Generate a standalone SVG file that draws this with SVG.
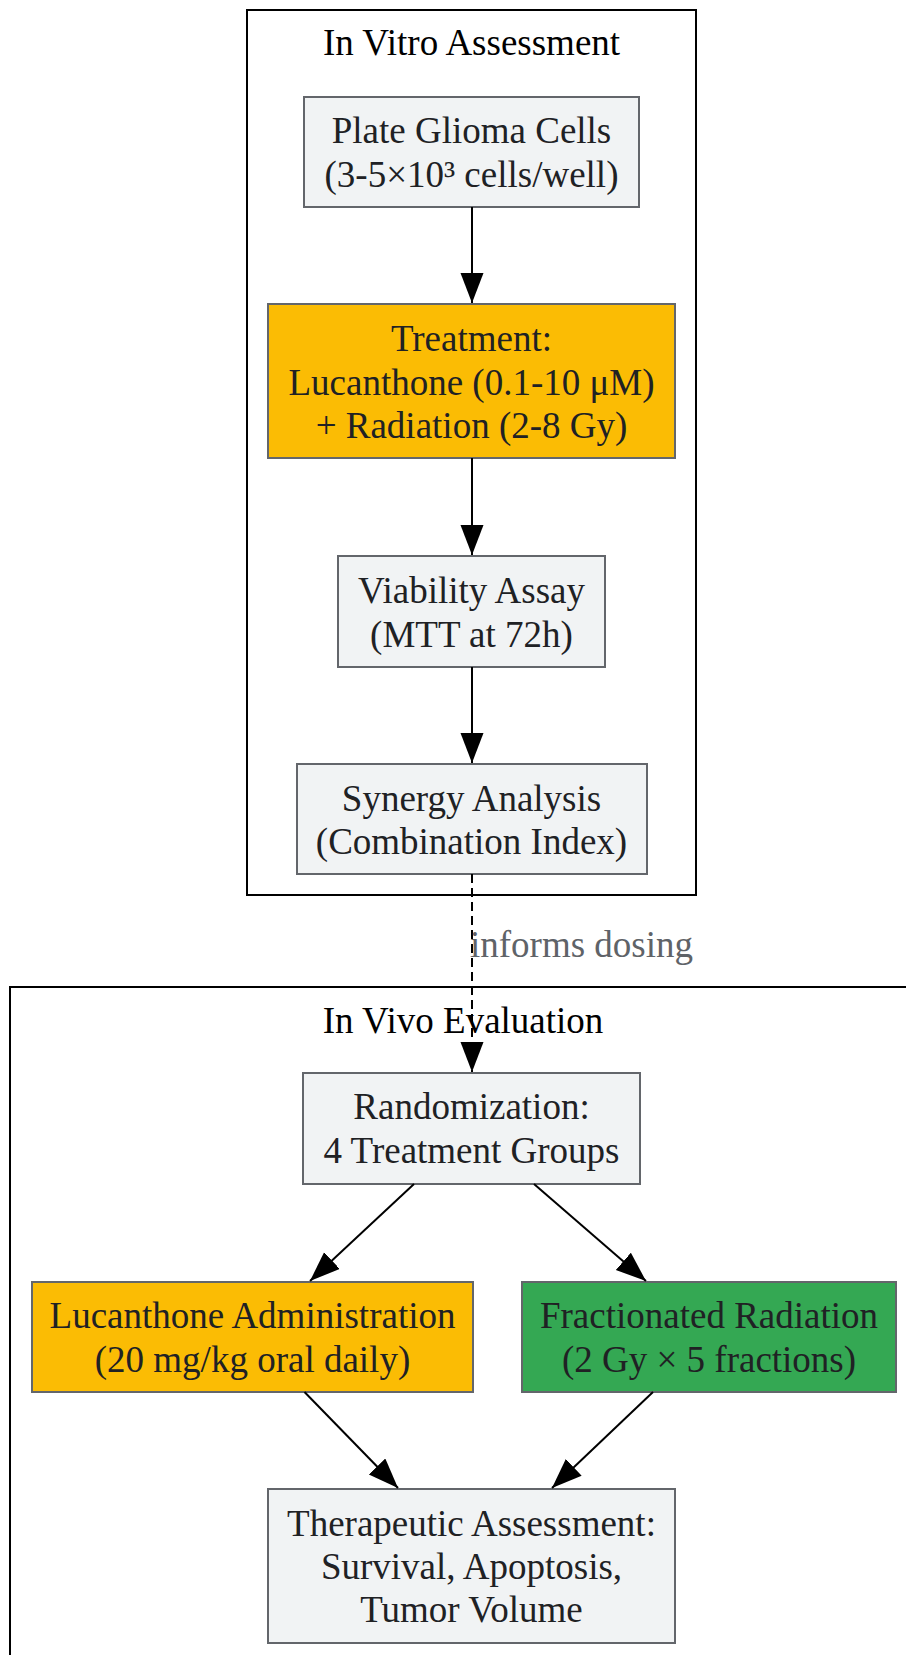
<svg xmlns="http://www.w3.org/2000/svg" width="906" height="1655" viewBox="0 0 906 1655">
<defs>
<style>
text{font-family:"Liberation Serif","Times New Roman",serif;font-size:37px;text-anchor:middle;fill:#202124}
.cl{fill:none;stroke:#000;stroke-width:2}
.ct{fill:#000}
.n{fill:#f1f3f4;stroke:#63666b;stroke-width:2}
.o{fill:#fbbc04;stroke:#63666b;stroke-width:2}
.g{fill:#34a853;stroke:#63666b;stroke-width:2}
.e{fill:none;stroke:#000;stroke-width:2;marker-end:url(#ah)}
.d{stroke-dasharray:9,5}
.lbl{fill:#5f6368;text-anchor:start}
</style>
<marker id="ah" markerUnits="userSpaceOnUse" markerWidth="31" markerHeight="24" refX="30" refY="11.5" orient="auto">
<path d="M0,0 L30,11.5 L0,23 z" fill="#000"/>
</marker>
</defs>
<rect width="906" height="1655" fill="#fff"/>
<g id="cluster-invitro">
<rect class="cl" x="247" y="10" width="449" height="885"/>
<text class="ct" x="471.5" y="55">In Vitro Assessment</text>
</g>
<g id="cluster-invivo">
<rect class="cl" x="10" y="987" width="906" height="720"/>
<text class="ct" x="463" y="1033">In Vivo Evaluation</text>
</g>
<g id="plate">
<rect class="n" x="304" y="97" width="335" height="110"/>
<text x="471.5" y="143">Plate Glioma Cells</text>
<text x="471.5" y="187">(3-5×10³ cells/well)</text>
</g>
<g id="treatment">
<rect class="o" x="268" y="304" width="407" height="154"/>
<text x="471.5" y="351">Treatment:</text>
<text x="471.5" y="395">Lucanthone (0.1-10 μM)</text>
<text x="471.5" y="438">+ Radiation (2-8 Gy)</text>
</g>
<g id="viability">
<rect class="n" x="338" y="556" width="267" height="111"/>
<text x="471.5" y="603">Viability Assay</text>
<text x="471.5" y="647">(MTT at 72h)</text>
</g>
<g id="synergy">
<rect class="n" x="297" y="764" width="350" height="110"/>
<text x="471.5" y="811">Synergy Analysis</text>
<text x="471.5" y="854">(Combination Index)</text>
</g>
<g id="randomization">
<rect class="n" x="303" y="1073" width="337" height="111"/>
<text x="471.5" y="1119">Randomization:</text>
<text x="471.5" y="1163">4 Treatment Groups</text>
</g>
<g id="lucanthone">
<rect class="o" x="32" y="1282" width="441" height="110"/>
<text x="252.5" y="1328">Lucanthone Administration</text>
<text x="252.5" y="1372">(20 mg/kg oral daily)</text>
</g>
<g id="radiation">
<rect class="g" x="522" y="1282" width="374" height="110"/>
<text x="709" y="1328">Fractionated Radiation</text>
<text x="709" y="1372">(2 Gy × 5 fractions)</text>
</g>
<g id="assessment">
<rect class="n" x="268" y="1489" width="407" height="154"/>
<text x="471.5" y="1536">Therapeutic Assessment:</text>
<text x="471.5" y="1579">Survival, Apoptosis,</text>
<text x="471.5" y="1622">Tumor Volume</text>
</g>
<g id="connectors">
<line class="e" x1="472" y1="207" x2="472" y2="303"/>
<line class="e" x1="472" y1="458" x2="472" y2="555"/>
<line class="e" x1="472" y1="667" x2="472" y2="763"/>
<line class="e d" x1="472" y1="874" x2="472" y2="1072"/>
<text class="lbl" x="470" y="957">informs dosing</text>
<line class="e" x1="414" y1="1184" x2="310" y2="1281"/>
<line class="e" x1="534" y1="1184" x2="646" y2="1281"/>
<line class="e" x1="304.5" y1="1392" x2="398" y2="1488"/>
<line class="e" x1="653" y1="1392" x2="552" y2="1488"/>
</g>
</svg>
